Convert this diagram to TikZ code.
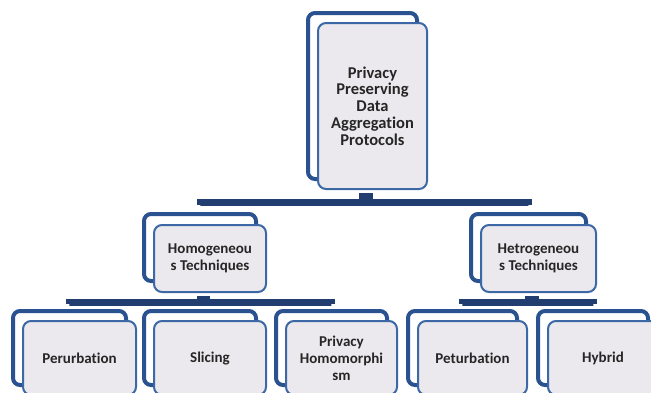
\documentclass[tikz,border=0pt]{standalone}
\usepackage{fontspec}
\setmainfont[Ligatures=NoCommon]{Carlito}
\usepackage{xcolor}
\usepackage{tikz}
\usetikzlibrary{arrows}
\usetikzlibrary{backgrounds}
\definecolor{barblue}{HTML}{223D6F}
\definecolor{backblue}{HTML}{2B5290}
\definecolor{frontblue}{HTML}{3C69A6}
\definecolor{boxgrey}{HTML}{EBE9ED}
\definecolor{textgrey}{HTML}{262626}

\begin{document}
\begin{tikzpicture}[x=1pt,y=-1pt]
	\useasboundingbox (0,0) rectangle (651,392);
	\clip (0,0) rectangle (651,392);
	\tikzstyle{bar}=[draw=barblue,line width=7pt]
	\tikzstyle{back}=[draw=backblue,line width=4pt,fill=white,rounded corners=7pt,inner sep=0pt]
	\tikzstyle{front}=[draw=frontblue,line width=2pt,fill=boxgrey,rounded corners=8pt,inner sep=2pt,align=center,text=textgrey,font=\bfseries\fontsize{15}{16.8}\selectfont]
	% shadow boxes
	\node[back,minimum width=109pt,minimum height=166pt] (rootbk) at (362.5,96) {};
	\node[back,minimum width=112pt,minimum height=67pt] (homobk) at (200,247.5) {};
	\node[back,minimum width=115pt,minimum height=67pt] (hetrobk) at (528.5,247.5) {};
	\node[back,minimum width=113pt,minimum height=74pt] (perbbk) at (69.5,348) {};
	\node[back,minimum width=112pt,minimum height=74pt] (slicbk) at (200,348) {};
	\node[back,minimum width=111pt,minimum height=74pt] (phombk) at (331.5,348) {};
	\node[back,minimum width=109pt,minimum height=74pt] (petbbk) at (462.5,348) {};
	\node[back,minimum width=110pt,minimum height=74pt] (hybrbk) at (593,348) {};
	% front boxes
	\node[front,minimum width=109pt,minimum height=166pt,font=\bfseries\fontsize{16.5}{16.8}\selectfont] (root) at (372.5,106) {Privacy\\Preserving\\Data\\Aggregation\\Protocols};
	\node[front,minimum width=112pt,minimum height=67pt] (homo) at (210,258.5) {Homogeneou\\s Techniques};
	\node[front,minimum width=115pt,minimum height=67pt] (hetro) at (538.5,258.5) {Hetrogeneou\\s Techniques};
	\node[front,minimum width=113pt,minimum height=74pt] (perb) at (79.5,358) {Perurbation};
	\node[front,minimum width=112pt,minimum height=74pt] (slic) at (210,358) {Slicing};
	\node[front,minimum width=111pt,minimum height=74pt] (phom) at (341.5,358) {Privacy\\Homomorphi\\sm};
	\node[front,minimum width=109pt,minimum height=74pt] (petb) at (472.5,358) {Peturbation};
	\node[front,minimum width=110pt,minimum height=74pt] (hybr) at (603,358) {Hybrid};
	% connectors
	\begin{pgfonlayer}{background}
	\draw[bar] ([yshift=-6pt]root.south) -- ++(-10,0) -- ++(0,6.5) -| ([yshift=7pt]homobk.north);
	\draw[bar] ([yshift=-6pt]root.south) -- ++(-10,0) -- ++(0,6.5) -| ([yshift=7pt]hetrobk.north);
	\draw[bar] ([yshift=-6pt]homo.south) -- ++(-10,0) -- ++(0,3.5) -| ([yshift=6pt]perbbk.north);
	\draw[bar] ([yshift=-6pt]homo.south) -- ++(-10,0) -- ++(0,3.5) -| ([yshift=6pt]slicbk.north);
	\draw[bar] ([yshift=-6pt]homo.south) -- ++(-10,0) -- ++(0,3.5) -| ([yshift=6pt]phombk.north);
	\draw[bar] ([yshift=-6pt]hetro.south) -- ++(-10,0) -- ++(0,3.5) -| ([yshift=6pt]petbbk.north);
	\draw[bar] ([yshift=-6pt]hetro.south) -- ++(-10,0) -- ++(0,3.5) -| ([yshift=6pt]hybrbk.north);
	\end{pgfonlayer}
\end{tikzpicture}
\end{document}
